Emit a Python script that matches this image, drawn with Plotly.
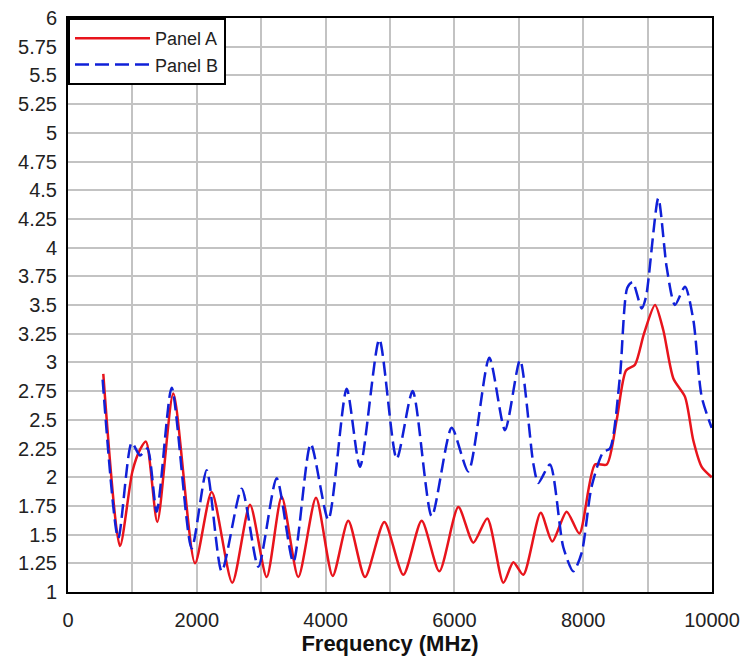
import plotly.graph_objects as go

# Panel A (red, solid)
freq_a = [548, 807, 1000, 1118, 1211, 1387, 1635, 1972, 2231, 2551, 2826, 3085, 3318, 3576,
          3851, 4110, 4352, 4612, 4912, 5207, 5492, 5766, 6061, 6294, 6511, 6760, 6915, 7070,
          7340, 7520, 7743, 7940, 8183, 8365, 8520, 8665, 8804, 8944, 9115, 9244, 9400, 9581,
          9710, 9840, 9995]
vals_a = [2.90, 1.40, 2.05, 2.24, 2.31, 1.61, 2.73, 1.25, 1.87, 1.08, 1.76, 1.13, 1.83, 1.13,
          1.82, 1.14, 1.62, 1.13, 1.61, 1.15, 1.62, 1.18, 1.74, 1.43, 1.64, 1.08, 1.26, 1.15,
          1.69, 1.44, 1.70, 1.51, 2.11, 2.11, 2.50, 2.93, 2.98, 3.25, 3.50, 3.28, 2.86, 2.70,
          2.32, 2.09, 2.00]

# Panel B (blue, dashed)
freq_b = [538, 781, 989, 1118, 1232, 1377, 1610, 1920, 2153, 2387, 2697, 2955, 3240, 3499,
          3769, 4042, 4327, 4534, 4834, 5104, 5352, 5648, 5958, 6216, 6542, 6786, 7019, 7225,
          7303, 7484, 7691, 7847, 7976, 8131, 8312, 8416, 8571, 8685, 8768, 8908, 8975, 9166,
          9296, 9425, 9581, 9710, 9840, 9995]
vals_b = [2.85, 1.47, 2.30, 2.19, 2.25, 1.70, 2.78, 1.38, 2.06, 1.18, 1.90, 1.22, 1.99, 1.26,
          2.29, 1.63, 2.77, 2.09, 3.20, 2.16, 2.75, 1.66, 2.43, 2.05, 3.04, 2.41, 3.02, 2.12,
          1.95, 2.11, 1.39, 1.18, 1.34, 1.92, 2.22, 2.25, 2.88, 3.65, 3.70, 3.47, 3.57, 4.43,
          3.83, 3.50, 3.66, 3.37, 2.70, 2.43]

x_ticks = [0, 2000, 4000, 6000, 8000, 10000]
y_ticks = [1 + 0.25 * i for i in range(21)]
y_labels = ["1", "1.25", "1.5", "1.75", "2", "2.25", "2.5", "2.75", "3", "3.25", "3.5",
            "3.75", "4", "4.25", "4.5", "4.75", "5", "5.25", "5.5", "5.75", "6"]

fig = go.Figure()
fig.add_trace(go.Scatter(x=freq_a, y=vals_a, mode="lines", name="Panel A", legendgroup="a",
                         line=dict(color="#e8141c", width=2.5, shape="spline", smoothing=0.7)))
fig.add_trace(go.Scatter(x=freq_b, y=vals_b, mode="lines", name="Panel B", legendgroup="b",
                         line=dict(color="#1020d8", width=2.5, shape="spline", smoothing=0.7,
                                   dash="14px,6px")))

fig.update_layout(
    width=750, height=664,
    margin=dict(l=60, r=46, t=10, b=80, autoexpand=False),
    paper_bgcolor="white", plot_bgcolor="white",
    font=dict(family="Liberation Sans, Arial", color="#222"),
    showlegend=True,
    legend=dict(x=0, y=1, xanchor="left", yanchor="top", bgcolor="white",
                bordercolor="black", borderwidth=2, font=dict(size=18, color="#222"),
                itemwidth=75, tracegroupgap=0),
    xaxis=dict(range=[0, 10000], tickvals=x_ticks, ticktext=[str(v) for v in x_ticks],
               showgrid=True, gridcolor="#c3c3c3", gridwidth=2,
               minor=dict(dtick=1000, tick0=0, showgrid=True, gridcolor="#c3c3c3", gridwidth=2),
               showline=True, linecolor="black", linewidth=2, mirror=True,
               ticks="outside", ticklen=9, tickcolor="rgba(0,0,0,0)",
               tickfont=dict(size=20, color="#222"), ticklabeloverflow="allow",
               title=dict(text="<b>Frequency (MHz)</b>", font=dict(size=22, color="#111"), standoff=4),
               zeroline=False),
    yaxis=dict(range=[1, 6], tickvals=y_ticks, ticktext=y_labels,
               showgrid=True, gridcolor="#c3c3c3", gridwidth=2,
               showline=True, linecolor="black", linewidth=2, mirror=True,
               ticks="outside", ticklen=5, tickcolor="rgba(0,0,0,0)",
               tickfont=dict(size=20, color="#222"), ticklabeloverflow="allow",
               zeroline=False),
)

fig.write_html("out.html")
